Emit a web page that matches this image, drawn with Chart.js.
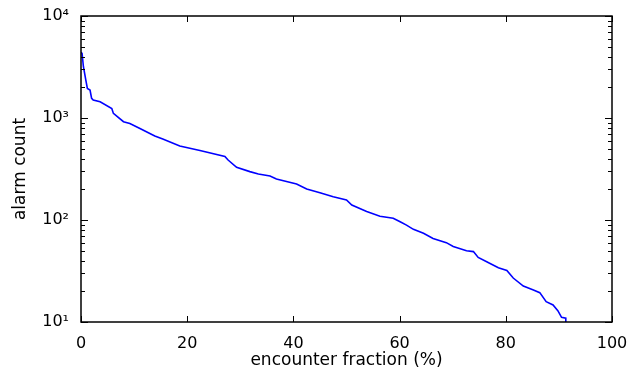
<!DOCTYPE html>
<html>
<head>
<meta charset="utf-8">
<script src="https://cdn.jsdelivr.net/npm/chart.js@4/dist/chart.umd.min.js"></script>
<style>
  html, body { margin: 0; padding: 0; background: #fff; }
  #wrap { width: 639px; height: 375px; }
</style>
</head>
<body>
<div id="wrap"><canvas id="c" width="639" height="375"></canvas></div>
<script>
// encounter fraction (%) vs alarm count
const fraction = [0, 0.2, 0.45, 0.9, 1.2, 1.7, 2.0, 2.3, 3.6, 5.8, 6.1, 8.0, 9.2, 11.1, 13.9, 15.4, 18.6, 22.4, 27.1, 27.7,
    29.3, 31.8, 33.4, 35.6, 36.8, 40.6, 42.5, 45.0, 47.5, 50.0, 51.0, 53.8, 56.3, 58.8, 60.1, 61.3, 62.6, 64.5, 66.3,
    68.8, 70.1, 72.6, 73.9, 74.8, 76.4, 78.6, 80.2, 81.4, 83.3, 85.2, 86.4, 87.6, 88.9, 89.8, 90.5, 91.3, 91.3];
const alarms = [4400, 4300, 3200, 2360, 1950, 1880, 1560, 1500, 1440, 1240, 1110, 920, 885, 790, 667, 622, 531, 480, 420, 387,
    328, 298, 283, 270, 252, 225, 201, 185, 169, 157, 140, 121, 109, 104, 96, 89, 81, 74, 66,
    60, 55, 50, 49, 43, 39, 34, 32, 27, 22.5, 20.6, 19.4, 15.8, 14.7, 12.9, 11.1, 10.9, 9];
const xTicks = [0, 20, 40, 60, 80, 100];
const yTicks = [10, 100, 1000, 10000];
const sup = {1: '\u00b9', 2: '\u00b2', 3: '\u00b3', 4: '\u2074'};

const font = "'DejaVu Sans', sans-serif";

// matplotlib style frame with inward ticks on all four sides
const frameTicks = {
    id: 'frameTicks',
    afterDraw(chart) {
        const { ctx, chartArea: a, scales } = chart;
        const xs = scales.x, ys = scales.y;
        ctx.save();
        ctx.strokeStyle = '#000';
        ctx.lineWidth = 1;
        ctx.beginPath();
        xTicks.forEach(v => {
            const px = Math.round(xs.getPixelForValue(v)) + 0.5;
            ctx.moveTo(px, a.bottom); ctx.lineTo(px, a.bottom - 6);
            ctx.moveTo(px, a.top); ctx.lineTo(px, a.top + 6);
        });
        yTicks.forEach(v => {
            const py = Math.round(ys.getPixelForValue(v)) + 0.5;
            ctx.moveTo(a.left, py); ctx.lineTo(a.left + 7, py);
            ctx.moveTo(a.right, py); ctx.lineTo(a.right - 7, py);
        });
        for (let d = 10; d < 10000; d *= 10) {
            for (let k = 2; k < 10; k++) {
                const py = Math.round(ys.getPixelForValue(d * k)) + 0.5;
                ctx.moveTo(a.left, py); ctx.lineTo(a.left + 4, py);
                ctx.moveTo(a.right, py); ctx.lineTo(a.right - 4, py);
            }
        }
        ctx.stroke();
        ctx.lineWidth = 1.5;
        ctx.strokeRect(a.left, a.top, a.right - a.left, a.bottom - a.top);
        ctx.restore();
    }
};

new Chart(document.getElementById('c'), {
    type: 'line',
    data: {
        datasets: [{
            data: fraction.map((f, i) => ({ x: f, y: alarms[i] })),
            borderColor: '#0000ff',
            borderWidth: 1.6,
            pointRadius: 0,
            tension: 0,
            fill: false
        }]
    },
    options: {
        responsive: false,
        animation: false,
        layout: { padding: { top: 16, right: 27, left: 0, bottom: 0 } },
        plugins: { legend: { display: false }, tooltip: { enabled: false } },
        scales: {
            x: {
                type: 'linear',
                min: 0, max: 100,
                afterBuildTicks: s => { s.ticks = xTicks.map(v => ({ value: v })); },
                afterFit: s => { s.height = 53; },
                grid: { display: false },
                border: { display: false },
                ticks: { color: '#000', font: { family: font, size: 16 }, padding: 4, maxRotation: 0 },
                title: { display: true, text: 'encounter fraction (%)', color: '#000', font: { family: font, size: 17 }, padding: { top: 8 } }
            },
            y: {
                type: 'logarithmic',
                min: 10, max: 10000,
                afterBuildTicks: s => { s.ticks = yTicks.map(v => ({ value: v })); },
                afterFit: s => { s.width = 81; },
                grid: { display: false },
                border: { display: false },
                ticks: {
                    color: '#000', font: { family: font, size: 16 }, padding: 4,
                    callback: v => '10' + sup[Math.round(Math.log10(v))]
                },
                title: { display: true, text: 'alarm count', color: '#000', font: { family: font, size: 17 }, padding: { top: 10, bottom: 4 } }
            }
        }
    },
    plugins: [frameTicks]
});
</script>
</body>
</html>
